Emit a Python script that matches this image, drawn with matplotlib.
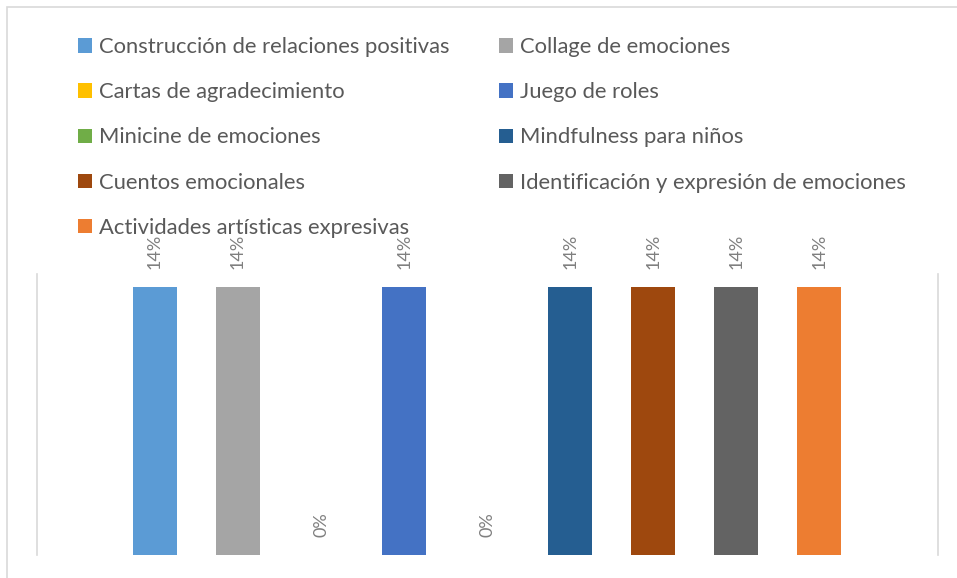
import matplotlib
matplotlib.use("Agg")
import matplotlib.pyplot as plt
from matplotlib.patches import Patch, Rectangle

plt.rcParams['font.family'] = ['Lato', 'DejaVu Sans']

# datos de la gráfica
actividades = [
    "Construcción de relaciones positivas",
    "Collage de emociones",
    "Cartas de agradecimiento",
    "Juego de roles",
    "Minicine de emociones",
    "Mindfulness para niños",
    "Cuentos emocionales",
    "Identificación y expresión de emociones",
    "Actividades artísticas expresivas",
]
porcentajes = [0.1429, 0.1429, 0.0, 0.1429, 0.0, 0.1429, 0.1429, 0.1429, 0.1429]
colores = ["#5B9BD5", "#A5A5A5", "#FFC000", "#4472C4", "#70AD47",
           "#255E91", "#9E480E", "#636363", "#ED7D31"]

gris_texto = "#595959"
gris_etiqueta = "#7F7F7F"
gris_linea = "#D9D9D9"

fig = plt.figure(figsize=(9.57, 5.78), dpi=100)
ax = fig.add_axes([37/957, 1 - 555/578, (938 - 37)/957, (555 - 274)/578])

for i, (nombre, val, col) in enumerate(zip(actividades, porcentajes, colores)):
    barras = ax.bar(i, val, width=0.53, color=col, label=nombre)
    ax.bar_label(barras, labels=[f"{val:.0%}"], rotation=90, padding=13,
                 color=gris_etiqueta, fontsize=13)

ax.set_xlim(-1.42, 9.43)
ax.set_ylim(0, 0.15)
ax.set_xticks([])
ax.set_yticks([])
for lado in ["top", "bottom"]:
    ax.spines[lado].set_visible(False)
for lado in ["left", "right"]:
    ax.spines[lado].set_color(gris_linea)
    ax.spines[lado].set_linewidth(1.2)

# leyenda en dos columnas (orden por filas)
handles = [Patch(facecolor=c, edgecolor="none") for c in colores]
kw = dict(frameon=False, fontsize=15.8, labelcolor=gris_texto, handlelength=0.64,
          handleheight=0.64, handletextpad=0.3, labelspacing=1.15, borderpad=0,
          borderaxespad=0, loc="upper left")
ley1 = fig.legend(handles[0::2], actividades[0::2],
                  bbox_to_anchor=(78/957, 1 - 37/578), **kw)
ley2 = fig.legend(handles[1::2], actividades[1::2],
                  bbox_to_anchor=(499/957, 1 - 37/578), **kw)

# borde del gráfico
fig.patches.append(Rectangle((7/957, -0.1), 1.2, 1 - 7/578 + 0.1,
                             transform=fig.transFigure, fill=False,
                             edgecolor=gris_linea, linewidth=1.2))

fig.savefig("out.png", dpi=100)
